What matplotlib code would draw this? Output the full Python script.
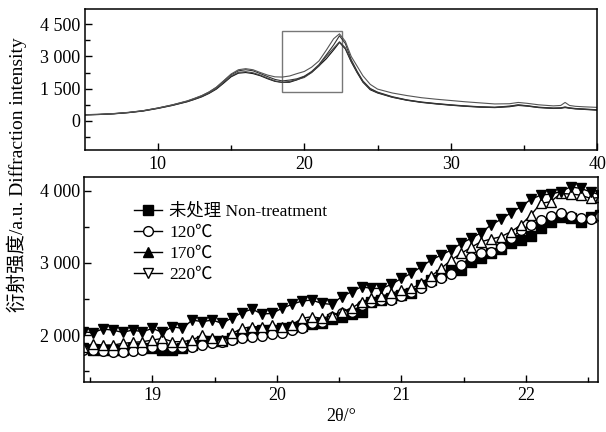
import numpy as np
import matplotlib
matplotlib.use('Agg')
import matplotlib.pyplot as plt
from matplotlib.lines import Line2D
from matplotlib.patches import Rectangle

plt.rcParams['font.family'] = ['Liberation Serif', 'Noto Sans CJK SC', 'DejaVu Sans']
plt.rcParams['font.size'] = 13

# 全谱 (上图)
top_x = [5, 6, 7, 8, 9, 10, 11, 12, 12.5, 13, 13.5, 14, 14.5, 15, 15.5, 16, 16.5, 17,
         17.5, 18, 18.5, 19, 19.5, 20, 20.5, 21, 21.5, 22, 22.4, 22.8, 23.2, 23.6, 24,
         24.5, 25, 26, 27, 28, 29, 30, 31, 32, 33, 34, 34.6, 35.2, 36, 37, 37.5, 37.8,
         38.1, 38.5, 39, 40]
top_nt = [280, 300, 330, 385, 460, 580, 720, 890, 1000, 1120, 1280, 1480, 1760, 2050,
          2220, 2250, 2200, 2100, 1960, 1840, 1790, 1800, 1910, 2060, 2260, 2560, 2890,
          3300, 3650, 3350, 2750, 2250, 1800, 1450, 1300, 1100, 960, 860, 790, 730, 680,
          640, 620, 660, 720, 690, 620, 580, 590, 620, 590, 560, 540, 500]
top_120 = [280, 300, 335, 390, 470, 590, 730, 900, 1010, 1140, 1300, 1510, 1800, 2090,
           2260, 2290, 2240, 2130, 1990, 1860, 1790, 1840, 1920, 2020, 2250, 2560, 3000,
           3380, 3680, 3400, 2780, 2280, 1830, 1490, 1320, 1110, 970, 870, 800, 740, 690,
           650, 630, 680, 740, 700, 630, 590, 600, 640, 600, 570, 550, 510]
top_170 = [290, 305, 340, 395, 475, 600, 745, 920, 1040, 1170, 1340, 1560, 1860, 2150,
           2330, 2380, 2330, 2200, 2060, 1930, 1860, 1900, 1960, 2080, 2300, 2620, 3070,
           3530, 3960, 3600, 2850, 2320, 1860, 1510, 1340, 1130, 980, 880, 810, 750, 700,
           660, 640, 690, 750, 710, 640, 600, 610, 650, 610, 580, 560, 520]
top_220 = [290, 310, 345, 400, 480, 600, 750, 930, 1050, 1180, 1350, 1570, 1870, 2180,
           2380, 2430, 2380, 2250, 2130, 2050, 2040, 2090, 2200, 2300, 2500, 2790, 3290,
           3820, 4050, 3700, 3000, 2550, 2100, 1700, 1480, 1300, 1180, 1080, 1010, 950,
           890, 840, 790, 800, 860, 820, 750, 700, 720, 860, 720, 680, 660, 630]

# 局部放大 (下图), 步长 0.08
zoom_x = np.round(18.44 + 0.08 * np.arange(53), 2)
zoom_nt = [1815, 1792, 1792, 1792, 1792, 1815, 1815, 1815, 1792, 1792, 1815, 1861, 1921,
           1921, 1921, 1954, 2000, 2046, 2069, 2069, 2092, 2115, 2130, 2152, 2170, 2222,
           2254, 2291, 2323, 2462, 2485, 2508, 2555, 2578, 2693, 2762, 2832, 2901, 2901,
           3016, 3063, 3132, 3188, 3270, 3317, 3377, 3478, 3561, 3640, 3617, 3571, 3640, 3663]
zoom_120 = [1792, 1792, 1783, 1769, 1760, 1783, 1792, 1838, 1852, 1838, 1829, 1838, 1861,
            1884, 1908, 1930, 1954, 1977, 1991, 2014, 2023, 2069, 2092, 2162, 2185, 2254,
            2300, 2323, 2416, 2462, 2485, 2485, 2540, 2600, 2647, 2739, 2785, 2845, 2970,
            3086, 3132, 3155, 3215, 3340, 3455, 3525, 3594, 3650, 3686, 3650, 3617, 3603, 3650]
zoom_170 = [1838, 1875, 1861, 1861, 1884, 1898, 1908, 1930, 1954, 1908, 1908, 1930, 2000,
            1954, 1930, 2023, 2092, 2115, 2115, 2139, 2115, 2139, 2231, 2254, 2231, 2268,
            2323, 2370, 2462, 2508, 2540, 2577, 2624, 2647, 2716, 2818, 2924, 3040, 3132,
            3215, 3294, 3330, 3363, 3432, 3525, 3663, 3825, 3848, 3963, 3954, 3940, 3894, 3908]
zoom_220 = [2046, 2032, 2083, 2069, 2037, 2069, 2046, 2092, 2037, 2115, 2092, 2208, 2185,
            2208, 2162, 2240, 2310, 2360, 2291, 2300, 2370, 2425, 2471, 2485, 2439, 2425,
            2531, 2600, 2670, 2646, 2646, 2702, 2785, 2855, 2947, 3040, 3109, 3178, 3270,
            3340, 3418, 3525, 3603, 3695, 3778, 3880, 3940, 3954, 3986, 4055, 4032, 3986, 3940]

labels = ['未处理 Non-treatment', '120℃', '170℃', '220℃']
zoom_xlim = (18.45, 22.58)
zoom_ylim = (1353, 4195)


def fmt(v):
    return f'{int(v):,}'.replace(',', ' ')


fig = plt.figure(figsize=(6.06, 4.32), dpi=100)
ax1 = fig.add_axes([0.1395, 0.6528, 0.8462, 0.3262])
ax2 = fig.add_axes([0.1386, 0.1164, 0.8482, 0.4746])

# 上图
for ys, c in zip([top_nt, top_120, top_170, top_220], ['#111111', '#444444', '#333333', '#555555']):
    ax1.plot(top_x, ys, color=c, lw=0.8)
ax1.add_patch(Rectangle((zoom_xlim[0], zoom_ylim[0]), zoom_xlim[1] - zoom_xlim[0],
                        zoom_ylim[1] - zoom_ylim[0], fill=False, edgecolor='#777777', lw=1.0))
ax1.set_xlim(5, 40)
ax1.set_ylim(-1350, 5200)
ax1.set_xticks([10, 20, 30, 40])
ax1.set_xticks([15, 25, 35], minor=True)
yt1 = [0, 1500, 3000, 4500]
ax1.set_yticks(yt1)
ax1.set_yticklabels([fmt(v) for v in yt1])
ax1.set_yticks([-750, 750, 2250, 3750], minor=True)

# 下图
ax2.plot(zoom_x, zoom_nt, color='k', lw=1, marker='s', ms=6.5, mfc='k', mec='k')
ax2.plot(zoom_x, zoom_120, color='k', lw=1, marker='o', ms=7, mfc='white', mec='k')
ax2.plot(zoom_x, zoom_170, color='k', lw=1, marker='^', ms=7, mfc='white', mec='k')
ax2.plot(zoom_x, zoom_220, color='k', lw=1, marker='v', ms=7, mfc='k', mec='k')
ax2.set_xlim(*zoom_xlim)
ax2.set_ylim(*zoom_ylim)
ax2.set_xticks([19, 20, 21, 22])
ax2.set_xticks([18.5, 19.5, 20.5, 21.5, 22.5], minor=True)
yt2 = [2000, 3000, 4000]
ax2.set_yticks(yt2)
ax2.set_yticklabels([fmt(v) for v in yt2])
ax2.set_yticks([1500, 2500, 3500], minor=True)
ax2.set_xlabel('2θ/°', labelpad=3, fontsize=13)

handles = [
    Line2D([], [], color='k', lw=1, marker='s', ms=6.5, mfc='k', mec='k'),
    Line2D([], [], color='k', lw=1, marker='o', ms=7, mfc='white', mec='k'),
    Line2D([], [], color='k', lw=1, marker='^', ms=7, mfc='k', mec='k'),
    Line2D([], [], color='k', lw=1, marker='v', ms=7, mfc='white', mec='k'),
]
ax2.legend(handles, labels, loc='upper left', bbox_to_anchor=(0.097, 0.87),
           frameon=False, borderpad=0, borderaxespad=0, handlelength=1.6,
           handletextpad=0.45, labelspacing=0.28, fontsize=12.5)

for ax in (ax1, ax2):
    for s in ax.spines.values():
        s.set_linewidth(1.1)
    ax.tick_params(which='major', direction='in', length=5, width=1, labelsize=13)
    ax.tick_params(which='minor', direction='in', length=3.5, width=1)
    ax.tick_params(axis='x', pad=4)
    ax.tick_params(axis='y', pad=3)

fig.text(0.028, 0.595, '衍射强度/a.u. Diffraction intensity', rotation=90,
         ha='center', va='center', fontsize=14)

fig.savefig('out.png', dpi=100)
